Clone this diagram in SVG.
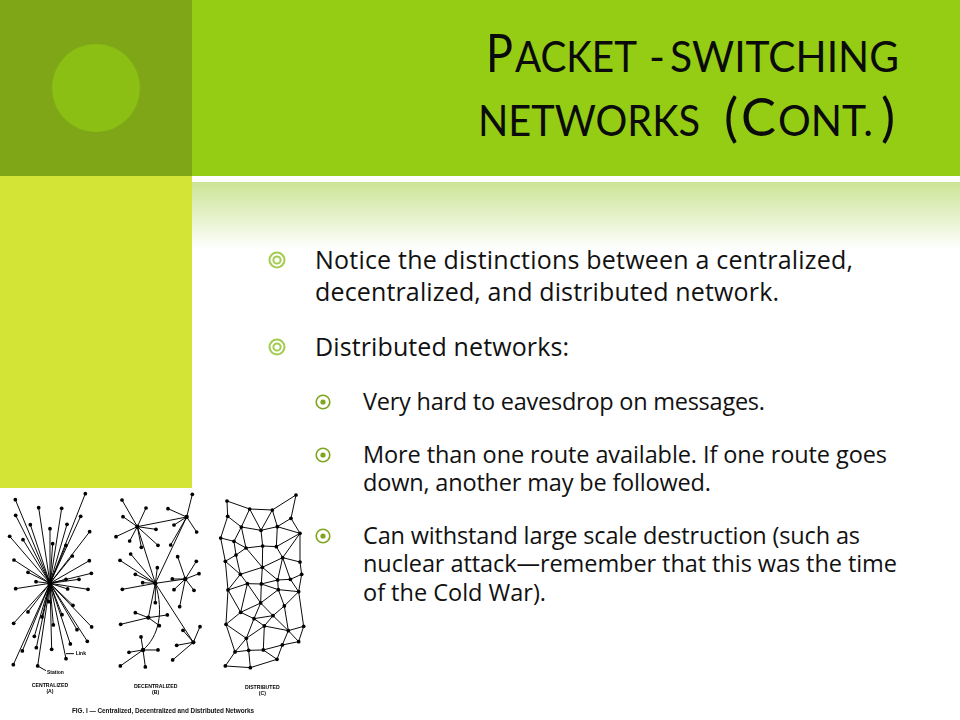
<svg xmlns="http://www.w3.org/2000/svg" width="960" height="720" viewBox="0 0 960 720">
<defs>
<linearGradient id="fade" x1="0" y1="0" x2="0" y2="1"><stop offset="0" stop-color="#cbe495"/><stop offset="1" stop-color="#ffffff"/></linearGradient>
<filter id="soft" x="-2%" y="-2%" width="104%" height="104%"><feGaussianBlur stdDeviation="0.35"/></filter>
<g id="b1"><circle r="7.5" class="ring"/><circle r="3.6" class="ring"/></g>
<g id="b2"><circle r="6.8" class="ring2"/><circle r="2.6" fill="#7fa51e"/></g>
</defs>
<style>
.ring{fill:none;stroke:#a3cc4f;stroke-width:2}
.ring2{fill:none;stroke:#7fa51e;stroke-width:1.6}
.t{font-family:"Lato","Liberation Sans",sans-serif;fill:#0b0b0b}
.big{font-size:53px}.sm{font-size:43px}
.b{font-family:"Open Sans","Liberation Sans",sans-serif;fill:#111;font-size:25px}
.s{font-family:"Open Sans","Liberation Sans",sans-serif;fill:#111;font-size:23.5px}
.edges path{stroke:#000;stroke-width:2.9;fill:none}
.dots circle{fill:#000;r:5.6px}
.cap{font-family:"Liberation Sans",sans-serif;font-size:15.5px;fill:#000;text-anchor:middle;font-weight:bold}
.lab{font-family:"Liberation Sans",sans-serif;font-size:15px;fill:#000;font-weight:bold}
.fig{font-family:"Liberation Sans",sans-serif;font-size:6.4px;fill:#111;font-weight:bold}
</style>
<rect width="960" height="720" fill="#ffffff"/>
<rect x="192" width="768" height="176" fill="#94cd14"/>
<rect width="192" height="176" fill="#7ea616"/>
<circle cx="96" cy="88" r="44" fill="#8bbf14"/>
<rect y="176" width="192" height="312" fill="#d4e436"/>
<rect x="192" y="182" width="768" height="68" fill="url(#fade)"/>

<g id="title">
<text class="t big" x="486" y="72" textLength="27" lengthAdjust="spacingAndGlyphs">P</text>
<text class="t sm" x="515" y="72" textLength="122" lengthAdjust="spacingAndGlyphs">ACKET</text>
<text class="t sm" x="649" y="72">-</text>
<text class="t sm" x="670" y="72" textLength="229" lengthAdjust="spacingAndGlyphs">SWITCHING</text>
<text class="t sm" x="478" y="136" textLength="222" lengthAdjust="spacingAndGlyphs">NETWORKS</text>
<text class="t big" x="724" y="136">(</text>
<text class="t big" x="741" y="136" textLength="35" lengthAdjust="spacingAndGlyphs">C</text>
<text class="t sm" x="778" y="136" textLength="95" lengthAdjust="spacingAndGlyphs">ONT.</text>
<text class="t big" x="881" y="136">)</text>
</g>

<g id="body">
<use href="#b1" x="277" y="260"/>
<text class="b" x="315" y="269" textLength="538">Notice the distinctions between a centralized,</text>
<text class="b" x="315" y="301" textLength="464">decentralized, and distributed network.</text>
<use href="#b1" x="277" y="347"/>
<text class="b" x="315" y="356" textLength="254">Distributed networks:</text>
<use href="#b2" x="323" y="402"/>
<text class="s" x="363" y="410" textLength="402">Very hard to eavesdrop on messages.</text>
<use href="#b2" x="323" y="455"/>
<text class="s" x="363" y="463" textLength="524">More than one route available. If one route goes</text>
<text class="s" x="363" y="491" textLength="348">down, another may be followed.</text>
<use href="#b2" x="323" y="536"/>
<text class="s" x="363" y="544" textLength="497">Can withstand large scale destruction (such as</text>
<text class="s" x="363" y="572" textLength="534">nuclear attack—remember that this was the time</text>
<text class="s" x="363" y="601" textLength="183">of the Cold War).</text>
</g>

<rect x="0" y="488" width="300" height="232" fill="#ffffff"/>
<g id="figure" filter="url(#soft)">
<g id="centralized" transform="translate(0,480) scale(0.3333)">
<g class="edges" id="edges-a">
<path d="M150 310L256 41M150 310L46 59M150 310L116 83M150 310L185 85M150 310L47 106M150 310L242 109M150 310L91 134M150 310L201 133M150 310L150 146M150 310L269 155M150 310L29 169M150 310L69 179M150 310L158 191M150 310L198 196M150 310L217 228M150 310L42 240M150 310L268 242M150 310L84 277M150 310L274 280M150 310L198 298M150 310L237 298M150 310L108 305M150 310L47 326M150 310L203 327M150 310L264 328M150 310L146 365M150 310L219 376M150 310L84 396M150 310L186 404M150 310L126 411M150 310L41 430M150 310L275 441M150 310L160 435M150 310L231 449M150 310L103 469M150 310L262 484M150 310L211 492M150 310L109 503M150 310L155 508M150 310L67 513M150 310L198 536M150 310L40 554M150 310L113 558M198 521L222 521M113 558L138 572"/>
</g>
<g class="dots" id="nodes-a">
<circle cx="150" cy="310" style="r:8px"/><circle cx="256" cy="41"/><circle cx="46" cy="59"/><circle cx="116" cy="83"/><circle cx="185" cy="85"/><circle cx="47" cy="106"/><circle cx="242" cy="109"/><circle cx="91" cy="134"/><circle cx="201" cy="133"/><circle cx="150" cy="146"/><circle cx="269" cy="155"/><circle cx="29" cy="169"/><circle cx="69" cy="179"/><circle cx="158" cy="191"/><circle cx="198" cy="196"/><circle cx="217" cy="228"/><circle cx="42" cy="240"/><circle cx="268" cy="242"/><circle cx="84" cy="277"/><circle cx="274" cy="280"/><circle cx="198" cy="298"/><circle cx="237" cy="298"/><circle cx="108" cy="305"/><circle cx="47" cy="326"/><circle cx="203" cy="327"/><circle cx="264" cy="328"/><circle cx="146" cy="365"/><circle cx="219" cy="376"/><circle cx="84" cy="396"/><circle cx="186" cy="404"/><circle cx="126" cy="411"/><circle cx="41" cy="430"/><circle cx="275" cy="441"/><circle cx="160" cy="435"/><circle cx="231" cy="449"/><circle cx="103" cy="469"/><circle cx="262" cy="484"/><circle cx="211" cy="492"/><circle cx="109" cy="503"/><circle cx="155" cy="508"/><circle cx="67" cy="513"/><circle cx="198" cy="536"/><circle cx="40" cy="554"/><circle cx="113" cy="558"/>
</g>
<text class="lab" x="227" y="526">Link</text>
<text class="lab" x="141" y="581">Station</text>
<text class="cap" x="150" y="622">CENTRALIZED</text>
<text class="cap" x="150" y="640">(A)</text>
</g>

<g id="decentralized" transform="translate(105,480) scale(0.3333)">
<g class="edges" id="edges-b">
<path d="M97 140L51 60M97 140L123 84M97 140L54 110M97 140L153 148M97 140L33 170M97 140L74 183M97 140L159 196M97 140L109 202M245 111L262 43M245 111L189 86M245 111L207 135M245 111L275 156M245 111L197 195M97 140L245 111M151 310L245 111M151 310L97 140M151 310L77 222M151 310L45 241M151 310L157 263M151 310L91 283M151 310L113 308M151 310L52 328M151 310L151 368M151 310L241 297M241 297L218 230M241 297L274 244M241 297L282 281M241 297L202 297M241 297L207 329M241 297L267 331M241 297L224 380M130 413L91 398M130 413L187 405M130 413L47 433M130 413L163 437M130 413L151 310M114 510L108 471M114 510L159 510M114 510L72 517M114 510L46 558M114 510L121 561M114 510C160 470 178 400 151 310M265 487L285 440M265 487L234 451M265 487L215 496M265 487L203 540M265 487L151 310"/>
</g>
<g class="dots" id="nodes-b">
<circle cx="97" cy="140" style="r:6.5px"/><circle cx="51" cy="60"/><circle cx="123" cy="84"/><circle cx="54" cy="110"/><circle cx="153" cy="148"/><circle cx="33" cy="170"/><circle cx="74" cy="183"/><circle cx="159" cy="196"/><circle cx="109" cy="202"/><circle cx="245" cy="111" style="r:6.5px"/><circle cx="262" cy="43"/><circle cx="189" cy="86"/><circle cx="207" cy="135"/><circle cx="275" cy="156"/><circle cx="197" cy="195"/><circle cx="151" cy="310" style="r:6.5px"/><circle cx="77" cy="222"/><circle cx="45" cy="241"/><circle cx="157" cy="263"/><circle cx="91" cy="283"/><circle cx="113" cy="308"/><circle cx="52" cy="328"/><circle cx="151" cy="368"/><circle cx="241" cy="297" style="r:6.5px"/><circle cx="218" cy="230"/><circle cx="274" cy="244"/><circle cx="282" cy="281"/><circle cx="202" cy="297"/><circle cx="207" cy="329"/><circle cx="267" cy="331"/><circle cx="224" cy="380"/><circle cx="130" cy="413" style="r:6.5px"/><circle cx="91" cy="398"/><circle cx="187" cy="405"/><circle cx="47" cy="433"/><circle cx="163" cy="437"/><circle cx="114" cy="510" style="r:6.5px"/><circle cx="108" cy="471"/><circle cx="159" cy="510"/><circle cx="72" cy="517"/><circle cx="46" cy="558"/><circle cx="121" cy="561"/><circle cx="265" cy="487" style="r:6.5px"/><circle cx="285" cy="440"/><circle cx="234" cy="451"/><circle cx="215" cy="496"/><circle cx="203" cy="540"/>
</g>
<text class="cap" x="152" y="625">DECENTRALIZED</text>
<text class="cap" x="152" y="642">(B)</text>
</g>

<g id="distributed" transform="translate(205,480) scale(0.3333)">
<g class="edges" id="edges-c">
<path d="M66 63L134 87L202 90L273 45L258 115L285 160L214 200L173 198L123 204L87 184L47 174L68 109L66 63M134 87L109 141L68 109M134 87L168 151L202 90L217 140L258 115M109 141L168 151L217 140L214 200M168 151L173 198L172 262L123 204L109 141L87 184L93 225L61 244L47 174M217 140L285 160L233 233L214 200M93 225L123 204M93 225L106 283L61 244L69 330L106 283L172 262L233 233L285 246L285 160M285 246L290 283L256 298L233 233L218 300L172 262M290 283L281 335L256 298L218 300L169 312L127 311L106 283M127 311L69 330L107 397L127 311L167 369L169 312L172 262M218 300L220 329L169 312M220 329L281 335L296 439L281 485L232 495L250 452L296 439M281 335L238 378L220 329L167 369L107 397L147 416L167 369L204 407L238 378L250 452L204 407L147 416L178 438L204 407M107 397L63 433L69 330M63 433L124 475L147 416M124 475L178 438L250 452L281 485M178 438L175 510L232 495L216 538L175 510L131 511L124 475L90 516L131 511L136 563L216 538M63 433L90 516L61 558L136 563"/>
</g>
<g class="dots" id="nodes-c">
<circle cx="273" cy="45"/><circle cx="66" cy="63"/><circle cx="134" cy="87"/><circle cx="202" cy="90"/><circle cx="68" cy="109"/><circle cx="258" cy="115"/><circle cx="109" cy="141"/><circle cx="217" cy="140"/><circle cx="168" cy="151"/><circle cx="285" cy="160"/><circle cx="47" cy="174"/><circle cx="87" cy="184"/><circle cx="123" cy="204"/><circle cx="173" cy="198"/><circle cx="214" cy="200"/><circle cx="93" cy="225"/><circle cx="233" cy="233"/><circle cx="61" cy="244"/><circle cx="285" cy="246"/><circle cx="172" cy="262"/><circle cx="290" cy="283"/><circle cx="106" cy="283"/><circle cx="218" cy="300"/><circle cx="256" cy="298"/><circle cx="127" cy="311"/><circle cx="169" cy="312"/><circle cx="69" cy="330"/><circle cx="220" cy="329"/><circle cx="281" cy="335"/><circle cx="167" cy="369"/><circle cx="238" cy="378"/><circle cx="107" cy="397"/><circle cx="204" cy="407"/><circle cx="147" cy="416"/><circle cx="63" cy="433"/><circle cx="178" cy="438"/><circle cx="296" cy="439"/><circle cx="250" cy="452"/><circle cx="124" cy="475"/><circle cx="281" cy="485"/><circle cx="232" cy="495"/><circle cx="90" cy="516"/><circle cx="131" cy="511"/><circle cx="175" cy="510"/><circle cx="216" cy="538"/><circle cx="61" cy="558"/><circle cx="136" cy="563"/>
</g>
<text class="cap" x="172" y="626">DISTRIBUTED</text>
<text class="cap" x="172" y="645">(C)</text>
</g>
<text class="fig" x="72" y="713" textLength="182">FIG. I — Centralized, Decentralized and Distributed Networks</text>
</g>
</svg>
